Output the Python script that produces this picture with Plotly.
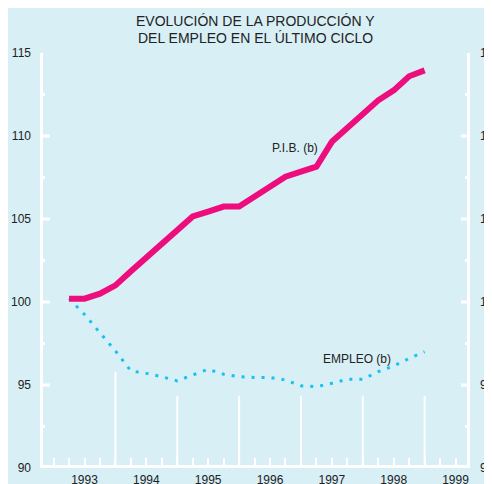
import plotly.graph_objects as go

# Quarterly data, 1993-I .. 1998-IV (plotted at quarter ends)
trimestres = [1993 + 0.25 * (i + 1) for i in range(24)]
pib = [100.2, 100.2, 100.5, 101.0, 101.85, 102.7, 103.5, 104.3,
       105.15, 105.45, 105.75, 105.75, 106.35, 106.95, 107.55, 107.85,
       108.15, 109.65, 110.5, 111.3, 112.15, 112.75, 113.6, 113.95]
empleo = [100.2, 99.25, 98.15, 97.05, 95.85, 95.7, 95.5, 95.25,
          95.6, 95.95, 95.65, 95.5, 95.45, 95.45, 95.3, 94.95,
          94.9, 95.1, 95.35, 95.35, 95.8, 96.15, 96.6, 97.0]

anios = [1993, 1994, 1995, 1996, 1997, 1998, 1999]
y_ticks = [90, 95, 100, 105, 110, 115]
y_major = [95, 100, 105, 110]
y_minor = [92.5, 97.5, 102.5, 107.5, 112.5]
titulo = ["EVOLUCIÓN DE LA PRODUCCIÓN Y", "DEL EMPLEO EN EL ÚLTIMO CICLO"]

BG = "#D8EFF6"
WHITE = "#FFFFFF"
TXT = "#222222"
FONT = "Liberation Sans, Arial, sans-serif"

x_tickvals = [1993 + 0.25 * k for k in range(27)]
x_ticktext = [str(int(v)) if abs(v - int(v) - 0.5) < 1e-9 else "" for v in x_tickvals]

fig = go.Figure()
# invisible helper trace so that the right-hand label axis is drawn
fig.add_trace(go.Scatter(x=trimestres, y=pib, yaxis="y2", mode="lines",
                         line=dict(width=0, color=BG), opacity=0,
                         hoverinfo="skip", showlegend=False))
fig.add_trace(go.Scatter(x=trimestres, y=empleo, mode="lines",
                         line=dict(color="#14C4EE", width=3, dash="3px,7px"),
                         hoverinfo="skip", showlegend=False))
fig.add_trace(go.Scatter(x=trimestres, y=pib, mode="lines",
                         line=dict(color="#EE0D7D", width=6),
                         hoverinfo="skip", showlegend=False))

shapes = []
# Tall white year separators
for a in anios[1:]:
    top = 95.8 if a == 1994 else 94.35
    shapes.append(dict(type="line", xref="x", yref="y", x0=a, x1=a, y0=90, y1=top,
                       line=dict(color=WHITE, width=2), layer="below"))
# Axis lines drawn just inside the plot frame
shapes.append(dict(type="line", xref="x domain", yref="y domain", xsizemode="pixel",
                   xanchor=0, x0=1.5, x1=1.5, y0=0, y1=1,
                   line=dict(color=WHITE, width=3), layer="below"))
shapes.append(dict(type="line", xref="x domain", yref="y domain", xsizemode="pixel",
                   xanchor=1, x0=-1.5, x1=-1.5, y0=0, y1=1,
                   line=dict(color=WHITE, width=3), layer="below"))
shapes.append(dict(type="line", xref="x domain", yref="y domain", ysizemode="pixel",
                   yanchor=0, y0=1.5, y1=1.5, x0=0, x1=1,
                   line=dict(color=WHITE, width=3), layer="below"))
# Y tick marks (left pointing right, right pointing left)
for v in y_major + y_minor:
    ln_l = 10 if v in y_major else 5
    ln_r = 9 if v in y_major else 5
    shapes.append(dict(type="line", xref="x domain", yref="y", xsizemode="pixel",
                       xanchor=0, x0=0, x1=ln_l, y0=v, y1=v,
                       line=dict(color=WHITE, width=3), layer="below"))
    shapes.append(dict(type="line", xref="x domain", yref="y", xsizemode="pixel",
                       xanchor=1, x0=-ln_r, x1=0, y0=v, y1=v,
                       line=dict(color=WHITE, width=3), layer="below"))

annotations = [
    dict(text=titulo[0], xref="paper", yref="paper", x=0.5, y=(467 - 21.5) / 414,
         xanchor="center", yanchor="middle", showarrow=False,
         font=dict(size=14, color=TXT, family=FONT)),
    dict(text=titulo[1], xref="paper", yref="paper", x=0.5, y=(467 - 38) / 414,
         xanchor="center", yanchor="middle", showarrow=False,
         font=dict(size=14, color=TXT, family=FONT)),
    dict(text="P.I.B. (b)", xref="x", yref="y", x=1996.91, y=109.26,
         showarrow=False, font=dict(size=12, color=TXT, family=FONT)),
    dict(text="EMPLEO (b)", xref="x", yref="y", x=1997.91, y=96.58,
         showarrow=False, font=dict(size=12, color=TXT, family=FONT)),
]

yrange = [90, 115]
common_y = dict(range=yrange, showgrid=False, zeroline=False, fixedrange=True,
                automargin=False, showline=False)

# the page body adds an 8px offset, so margins are shifted by 8px
fig.update_layout(
    width=492, height=484,
    paper_bgcolor=BG, plot_bgcolor=BG,
    margin=dict(l=32, r=30, t=45, b=24, autoexpand=False),
    font=dict(family=FONT, size=12, color=TXT),
    shapes=shapes, annotations=annotations,
    xaxis=dict(range=[1992.78, 1999.734], tickmode="array", tickvals=x_tickvals,
               ticktext=x_ticktext, ticks="inside", ticklen=10, tickwidth=2,
               tickcolor=WHITE, showline=False,
               showgrid=False, zeroline=False, ticklabelstandoff=3,
               automargin=False, tickfont=dict(size=12, color=TXT)),
    yaxis=dict(**common_y, side="left", tickmode="array", tickvals=y_ticks,
               ticks="", ticklabelstandoff=8, tickfont=dict(size=12, color=TXT)),
    yaxis2=dict(**common_y, overlaying="y", side="right", anchor="x",
                tickmode="array", tickvals=y_ticks, ticks="", ticklabelstandoff=9,
                tickfont=dict(size=12, color=TXT)),
)

fig.write_html("out.html")
